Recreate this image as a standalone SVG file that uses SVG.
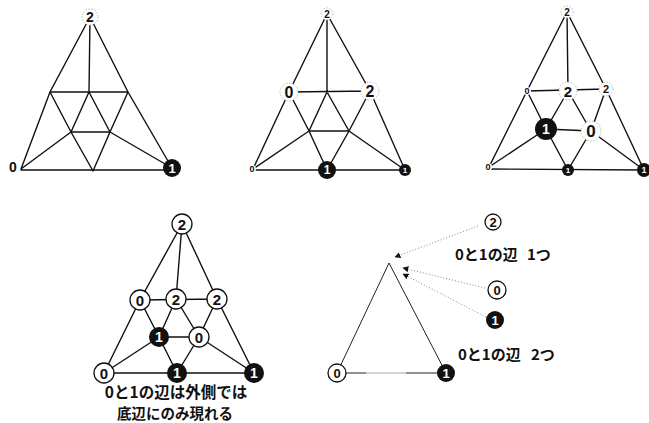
<svg xmlns="http://www.w3.org/2000/svg" width="649" height="423" viewBox="0 0 649 423">
<style>
.e{stroke:#111;stroke-width:1.4;fill:none;stroke-linecap:round}
.e5{stroke:#222;stroke-width:1;fill:none}
.d{stroke:#888;stroke-width:1;fill:none;stroke-dasharray:1 2}
.n{fill:#fff;stroke:#111;stroke-width:1.3}
.f{fill:#fff;stroke:#aaa;stroke-width:0.8;stroke-dasharray:1.5 1.5}
.w{fill:#fff;stroke:none}
.b{fill:#111;stroke:none}
.t{font-family:"Liberation Sans",Arial,sans-serif;font-weight:bold;text-anchor:middle;dominant-baseline:central;fill:#111}
.tw{fill:#fff}
.jp{font-family:"Noto Sans CJK JP","Noto Sans",sans-serif;font-weight:bold;font-size:15px;fill:#111;dominant-baseline:central}
</style>
<defs>
<marker id="ah" viewBox="0 0 10 10" refX="9" refY="5" markerWidth="6" markerHeight="6" markerUnits="userSpaceOnUse" orient="auto">
<path d="M0 0L10 5L0 10z" fill="#111"/>
</marker>
</defs>
<rect width="649" height="423" fill="#fff"/>
<g id="connectors">
<path class="e" d="M90 17L50 92L21 169 M90 17L89 92 M90 17L128 92L172 168 M50 92L128 92 M50 92L71 132 M89 92L71 132 M89 92L110 132 M128 92L110 132 M71 132L110 132 M71 132L21 169 M71 132L93 171 M110 132L93 171 M110 132L172 168 M21 170L172 170"/>
<path class="e" d="M327 14L289 92L253 169 M327 14L327 92 M327 14L370 91L405 170 M289 92L370 91 M289 92L309 131 M327 92L309 131 M327 92L349 131 M370 91L349 131 M309 131L349 131 M309 131L253 169 M309 131L327 170 M349 131L327 170 M349 131L405 170 M253 170L405 170"/>
<path class="e" d="M567 12L527 91L489 167 M567 12L568 91 M567 12L606 89L644 170 M527 91L606 89 M527 91L546 129 M568 91L546 129 M568 91L591 131 M606 89L591 131 M546 129L591 131 M546 129L489 167 M546 129L568 170 M591 131L568 170 M591 131L644 170 M489 169L644 170"/>
<path class="e" d="M182 224L140 300L104 373 M182 224L176 299 M182 224L217 299L254 373 M140 300L217 299 M140 300L159 337 M176 299L159 337 M176 299L199 337 M217 299L199 337 M159 337L199 337 M159 337L104 373 M159 337L177 373 M199 337L177 373 M199 337L254 373 M104 373L254 373"/>
<path class="e5" d="M389 263L337 373 M389 263L446 373 M337 373L366 373 M406 373L446 373"/>
<path d="M366 373L406 373" stroke="#aaa" stroke-width="1.2"/>
<path class="d" d="M478 226L395 257" marker-end="url(#ah)"/>
<path class="d" d="M485 288L403 268" marker-end="url(#ah)"/>
<path class="d" d="M486 317L403 274" marker-end="url(#ah)"/>
</g>
<g id="p1-top"><circle class="f" cx="90" cy="17" r="8"/><text class="t" x="90" y="17" font-size="14">2</text></g>
<g id="p1-left"><circle class="w" cx="13" cy="167" r="5"/><text class="t" x="13" y="167" font-size="14">0</text></g>
<g id="p1-right"><circle class="b" cx="172" cy="168" r="9"/><text class="t tw" x="172" y="168" font-size="13">1</text></g>

<g id="p2-top"><circle class="f" cx="327" cy="14" r="6"/><text class="t" x="327" y="14" font-size="10">2</text></g>
<g id="p2-midleft"><circle class="f" cx="289" cy="92" r="9"/><text class="t" x="289" y="92" font-size="16">0</text></g>
<g id="p2-midright"><circle class="f" cx="370" cy="91" r="9"/><text class="t" x="370" y="91" font-size="16">2</text></g>
<g id="p2-botleft"><circle class="w" cx="252" cy="169" r="4"/><text class="t" x="252" y="169" font-size="9">0</text></g>
<g id="p2-botmid"><circle class="b" cx="327" cy="170" r="9"/><text class="t tw" x="327" y="170" font-size="12">1</text></g>
<g id="p2-botright"><circle class="b" cx="405" cy="170" r="6"/><text class="t tw" x="405" y="170" font-size="8">1</text></g>

<g id="p3-top"><circle class="f" cx="567" cy="12" r="6"/><text class="t" x="567" y="12" font-size="10">2</text></g>
<g id="p3-midleft"><circle class="w" cx="527" cy="91" r="4"/><text class="t" x="527" y="91" font-size="9">0</text></g>
<g id="p3-center"><circle class="f" cx="568" cy="91" r="9"/><text class="t" x="568" y="91" font-size="15">2</text></g>
<g id="p3-midright"><circle class="f" cx="606" cy="89" r="7"/><text class="t" x="606" y="89" font-size="11">2</text></g>
<g id="p3-innerleft"><circle class="b" cx="546" cy="129" r="11"/><text class="t tw" x="546" y="129" font-size="14">1</text></g>
<g id="p3-innerright"><circle class="f" cx="591" cy="131" r="10"/><text class="t" x="591" y="131" font-size="17">0</text></g>
<g id="p3-botleft"><circle class="w" cx="488" cy="167" r="4"/><text class="t" x="488" y="167" font-size="9">0</text></g>
<g id="p3-botmid"><circle class="b" cx="568" cy="170" r="6"/><text class="t tw" x="568" y="170" font-size="8">1</text></g>
<g id="p3-botright"><circle class="b" cx="644" cy="170" r="7"/><text class="t tw" x="644" y="170" font-size="9">1</text></g>

<g id="p4-top"><circle class="n" cx="182" cy="224" r="10"/><text class="t" x="182" y="224" font-size="15">2</text></g>
<g id="p4-midleft"><circle class="n" cx="140" cy="300" r="10"/><text class="t" x="140" y="300" font-size="15">0</text></g>
<g id="p4-center"><circle class="n" cx="176" cy="299" r="10"/><text class="t" x="176" y="299" font-size="15">2</text></g>
<g id="p4-midright"><circle class="n" cx="217" cy="299" r="10"/><text class="t" x="217" y="299" font-size="15">2</text></g>
<g id="p4-innerleft"><circle class="b" cx="159" cy="337" r="10"/><text class="t tw" x="159" y="337" font-size="14">1</text></g>
<g id="p4-innerright"><circle class="n" cx="199" cy="337" r="10"/><text class="t" x="199" y="337" font-size="15">0</text></g>
<g id="p4-botleft"><circle class="n" cx="104" cy="373" r="10"/><text class="t" x="104" y="373" font-size="15">0</text></g>
<g id="p4-botmid"><circle class="b" cx="177" cy="373" r="10"/><text class="t tw" x="177" y="373" font-size="14">1</text></g>
<g id="p4-botright"><circle class="b" cx="254" cy="373" r="10"/><text class="t tw" x="254" y="373" font-size="14">1</text></g>
<g id="p4-caption">
<text class="jp" x="176" y="391" text-anchor="middle" style="font-size:15.5px">0と1の辺は外側では</text>
<text class="jp" x="175" y="412" text-anchor="middle" style="font-size:14.5px">底辺にのみ現れる</text>
</g>

<g id="p5-left"><circle class="n" cx="337" cy="373" r="9"/><text class="t" x="337" y="373" font-size="13">0</text></g>
<g id="p5-right"><circle class="b" cx="446" cy="373" r="9"/><text class="t tw" x="446" y="373" font-size="13">1</text></g>
<g id="p5-legend2"><circle class="n" cx="493" cy="222" r="8"/><text class="t" x="493" y="222" font-size="13">2</text></g>
<g id="p5-legend0"><circle class="n" cx="497" cy="290" r="9"/><text class="t" x="497" y="290" font-size="13">0</text></g>
<g id="p5-legend1"><circle class="b" cx="495" cy="320" r="9"/><text class="t tw" x="495" y="320" font-size="13">1</text></g>
<g id="p5-label1"><text class="jp" x="455" y="253">0と1の辺<tspan x="527">1つ</tspan></text></g>
<g id="p5-label2"><text class="jp" x="458" y="353">0と1の辺<tspan x="531">2つ</tspan></text></g>
</svg>
